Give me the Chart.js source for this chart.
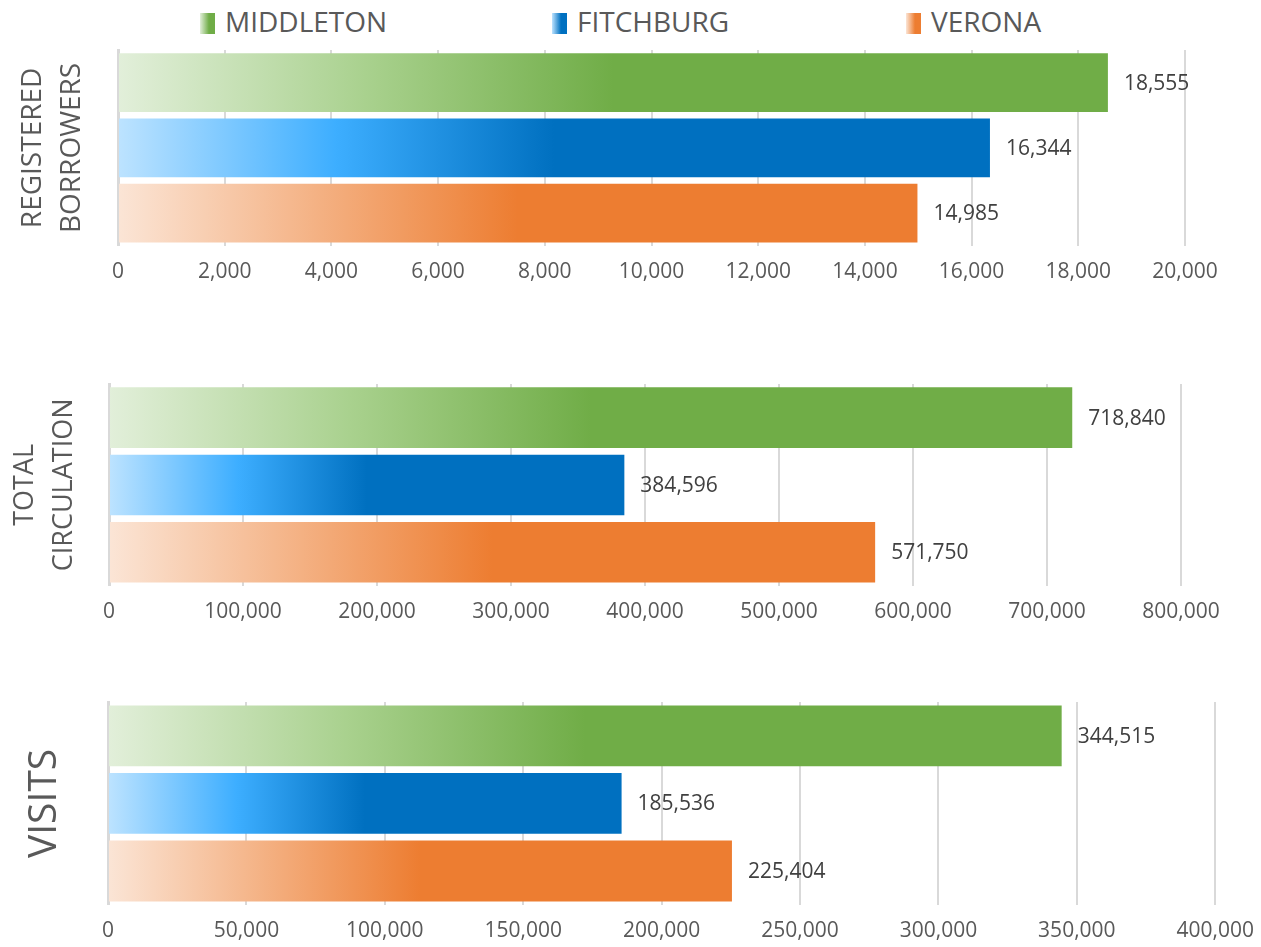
<!DOCTYPE html>
<html>
<head>
<meta charset="utf-8">
<title>Library statistics</title>
<script src="https://cdn.jsdelivr.net/npm/chart.js@4"></script>
<style>
  body { margin: 0; width: 1261px; height: 947px; background: #fff; position: relative; overflow: hidden; font-family: "Open Sans", sans-serif; }
  .legend-item { position: absolute; top: 3px; font-size: 28px; line-height: 36px; color: #595959; white-space: nowrap; }
  .swatch { display: inline-block; width: 15px; height: 21px; margin-right: 10px; vertical-align: -2px; }
  .panel { position: absolute; left: 0; width: 1261px; }
</style>
</head>
<body>
<div id="legend"></div>
<div class="panel" style="top:40px;height:259px"><canvas id="borrowersChart"></canvas></div>
<div class="panel" style="top:374px;height:265px"><canvas id="circulationChart"></canvas></div>
<div class="panel" style="top:692px;height:266px;width:1268px"><canvas id="visitsChart"></canvas></div>
<script>
const libraries = ["MIDDLETON", "FITCHBURG", "VERONA"];
const registeredBorrowers = [18555, 16344, 14985];
const totalCirculation = [718840, 384596, 571750];
const visits = [344515, 185536, 225404];

// light -> mid -> full colour for each library
const shades = [
  ["#e2efda", "#a9d18e", "#70ad47"],
  ["#bde3ff", "#3daeff", "#0070c0"],
  ["#fbe5d6", "#f4b183", "#ed7d31"]
];

const legendX = [200, 552, 906];

function buildLegend() {
  const box = document.getElementById("legend");
  libraries.forEach((name, i) => {
    const item = document.createElement("span");
    item.className = "legend-item";
    item.style.left = legendX[i] + "px";
    const sw = document.createElement("span");
    sw.className = "swatch";
    sw.style.background = `linear-gradient(to right, ${shades[i][0]}, ${shades[i][2]} 60%)`;
    item.appendChild(sw);
    item.appendChild(document.createTextNode(name));
    box.appendChild(item);
  });
}

function fmt(v) {
  return Number(v).toLocaleString("en-US");
}

function barGradient(context) {
  const chart = context.chart;
  const i = context.dataIndex;
  if (!chart.chartArea) return shades[i][2];
  const x = chart.scales.x;
  const x0 = x.getPixelForValue(0);
  const x1 = x.getPixelForValue(context.raw);
  const g = chart.ctx.createLinearGradient(x0, 0, x1, 0);
  g.addColorStop(0, shades[i][0]);
  g.addColorStop(0.25, shades[i][1]);
  g.addColorStop(0.5, shades[i][2]);
  g.addColorStop(1, shades[i][2]);
  return g;
}

const valueLabels = {
  id: "valueLabels",
  afterDatasetsDraw(chart) {
    const ctx = chart.ctx;
    const meta = chart.getDatasetMeta(0);
    ctx.save();
    ctx.font = '21px "Open Sans"';
    ctx.fillStyle = "#404040";
    ctx.textBaseline = "middle";
    ctx.textAlign = "left";
    meta.data.forEach((bar, i) => {
      ctx.fillText(fmt(chart.data.datasets[0].data[i]), bar.x + 16, bar.y + 1);
    });
    ctx.restore();
  }
};

function initPanel(id, values, o) {
  const el = document.getElementById(id);
  new Chart(el, {
    type: "bar",
    data: {
      labels: libraries,
      datasets: [{
        data: values,
        backgroundColor: barGradient,
        borderWidth: 0,
        barPercentage: 0.9,
        categoryPercentage: 1
      }]
    },
    options: {
      indexAxis: "y",
      responsive: true,
      maintainAspectRatio: false,
      animation: false,
      layout: { padding: { top: 10, left: 0, right: o.padRight, bottom: 0 } },
      plugins: { legend: { display: false }, tooltip: { enabled: false } },
      scales: {
        x: {
          min: 0,
          max: o.max,
          ticks: {
            stepSize: o.step,
            padding: 14,
            color: "#595959",
            font: { family: "Open Sans", size: 21 },
            callback: v => fmt(v)
          },
          grid: { color: "#d9d9d9", lineWidth: 2, drawTicks: false },
          border: { display: false }
        },
        y: {
          ticks: { display: false },
          grid: { display: false, drawTicks: false },
          border: { display: true, color: "#d9d9d9", width: 3 },
          title: {
            display: true,
            text: o.title,
            color: "#595959",
            font: { family: "Open Sans", size: o.titleSize, lineHeight: o.titleLine },
            padding: { top: o.titlePad, bottom: 0 }
          },
          afterFit(scale) { scale.width = o.axisWidth; }
        }
      }
    },
    plugins: [valueLabels]
  });
}

buildLegend();
initPanel("borrowersChart", registeredBorrowers, {
  title: ["REGISTERED", "BORROWERS"], titleSize: 28, titleLine: 1.393, titlePad: 14,
  axisWidth: 118, padRight: 76, max: 20000, step: 2000
});
initPanel("circulationChart", totalCirculation, {
  title: ["TOTAL", "CIRCULATION"], titleSize: 27, titleLine: 1.444, titlePad: 6,
  axisWidth: 109, padRight: 80, max: 800000, step: 100000
});
initPanel("visitsChart", visits, {
  title: "VISITS", titleSize: 39, titleLine: 1.2, titlePad: 21,
  axisWidth: 108, padRight: 45, max: 400000, step: 50000
});
</script>
</body>
</html>
